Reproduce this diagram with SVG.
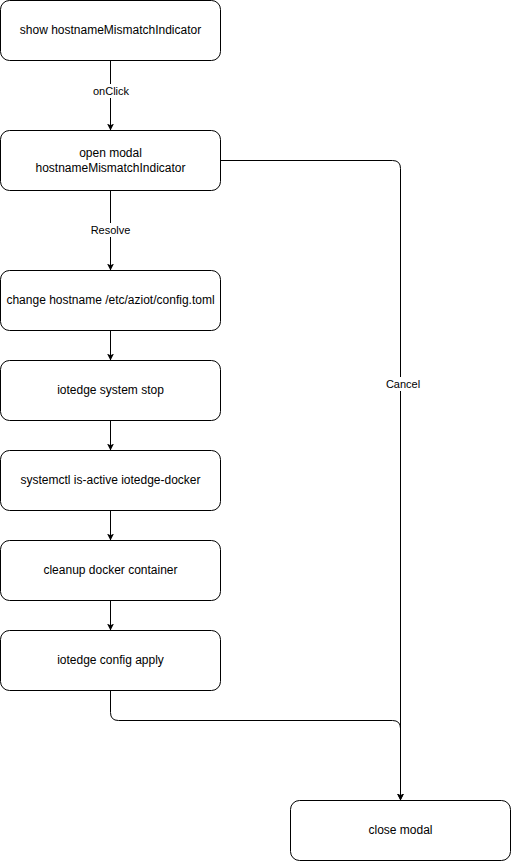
<svg xmlns="http://www.w3.org/2000/svg" width="511" height="861" viewBox="0 0 511 861">
<style>
.n rect{fill:#fff;stroke:#000;stroke-width:1}
.n text{font-family:"Liberation Sans",Arial,sans-serif;font-size:12px;fill:#000;text-anchor:middle}
.e path{fill:none;stroke:#000;stroke-width:1}
.lbl rect{fill:#fff}
.lbl text{font-family:"Liberation Sans",Arial,sans-serif;font-size:11px;fill:#000;text-anchor:middle}
</style>
<defs>
<marker id="arr" viewBox="0 0 10 10" refX="10" refY="5" markerWidth="7" markerHeight="7" markerUnits="userSpaceOnUse" orient="auto">
<path d="M0,0 L10,5 L0,10 L2.5,5 Z" fill="#000"/>
</marker>
</defs>
<rect width="511" height="861" fill="#fff"/>
<g id="edges" class="e">
<path d="M110.5,60.5 V130.5" marker-end="url(#arr)"/>
<path d="M110.5,190.5 V270.5" marker-end="url(#arr)"/>
<path d="M110.5,330.5 V360.5" marker-end="url(#arr)"/>
<path d="M110.5,420.5 V450.5" marker-end="url(#arr)"/>
<path d="M110.5,510.5 V540.5" marker-end="url(#arr)"/>
<path d="M110.5,600.5 V630.5" marker-end="url(#arr)"/>
<path d="M220.5,160.5 H392.5 Q400.5,160.5 400.5,168.5 V800.5" marker-end="url(#arr)"/>
<path d="M110.5,690.5 V712.5 Q110.5,720.5 118.5,720.5 H392.5 Q400.5,720.5 400.5,728.5 V800.5" marker-end="url(#arr)"/>
<g class="lbl">
<rect x="94" y="84" width="34" height="14"/>
<text x="111" y="95">onClick</text>
<rect x="89" y="223" width="43" height="14"/>
<text x="110.5" y="234">Resolve</text>
<rect x="383" y="377" width="40" height="14"/>
<text x="403" y="388">Cancel</text>
</g>
</g>
<g id="n1" class="n"><rect x="0.5" y="0.5" width="220" height="60" rx="9"/><text x="110.5" y="33.5">show hostnameMismatchIndicator</text></g>
<g id="n2" class="n"><rect x="0.5" y="130.5" width="220" height="60" rx="9"/><text x="110.5" y="157">open modal</text><text x="110.5" y="172">hostnameMismatchIndicator</text></g>
<g id="n3" class="n"><rect x="0.5" y="270.5" width="220" height="60" rx="9"/><text x="110.5" y="303.5">change hostname /etc/aziot/config.toml</text></g>
<g id="n4" class="n"><rect x="0.5" y="360.5" width="220" height="60" rx="9"/><text x="110.5" y="393.5">iotedge system stop</text></g>
<g id="n5" class="n"><rect x="0.5" y="450.5" width="220" height="60" rx="9"/><text x="110.5" y="483.5">systemctl is-active iotedge-docker</text></g>
<g id="n6" class="n"><rect x="0.5" y="540.5" width="220" height="60" rx="9"/><text x="110.5" y="573.5">cleanup docker container</text></g>
<g id="n7" class="n"><rect x="0.5" y="630.5" width="220" height="60" rx="9"/><text x="110.5" y="663.5">iotedge config apply</text></g>
<g id="n8" class="n"><rect x="290.5" y="800.5" width="220" height="60" rx="9"/><text x="400.5" y="833.5">close modal</text></g>
</svg>
